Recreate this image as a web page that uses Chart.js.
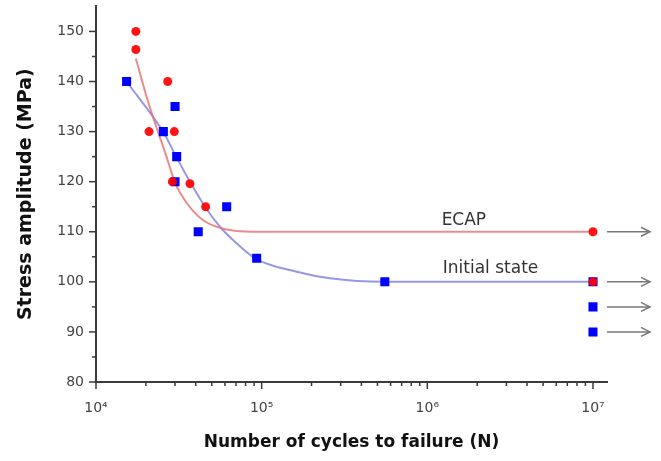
<!DOCTYPE html>
<html>
<head>
<meta charset="utf-8">
<script src="https://cdn.jsdelivr.net/npm/chart.js@4.4.0/dist/chart.umd.min.js"></script>
<style>
  html, body { margin: 0; padding: 0; background: #fff; }
  #wrap { width: 661px; height: 461px; }
</style>
</head>
<body>
<div id="wrap"><canvas id="sn"></canvas></div>
<script>
// S-N data: cycles to failure vs stress amplitude (MPa)
const ecapCycles = [1.74e4, 1.74e4, 2.71e4, 2.09e4, 2.97e4, 2.89e4, 3.69e4, 4.59e4, 1e7, 1e7];
const ecapStress = [150, 146.4, 140, 130, 130, 120, 119.6, 115, 110, 100];

const initCycles = [1.53e4, 3.0e4, 2.55e4, 3.07e4, 3.0e4, 4.14e4, 6.15e4, 9.33e4, 5.54e5, 1e7, 1e7, 1e7];
const initStress = [140, 135, 130, 125, 120, 110, 115, 104.7, 100, 100, 95, 90];

// fitted curves
const ecapFitCycles = [1.74e4, 2.07e4, 2.67e4, 3.0e4, 3.52e4, 4.44e4, 5.86e4, 8.9e4, 1e7];
const ecapFitStress = [144.6, 135.8, 124.9, 119.8, 115.8, 112.3, 110.6, 110, 110];
const initFitCycles = [1.545e4, 2.547e4, 3.069e4, 3.69e4, 4.55e4, 5.6e4, 6.74e4, 9.12e4, 1.63e5, 2.58e5, 5.54e5, 1e7];
const initFitStress = [139.8, 129.9, 124.8, 120, 115, 111, 108.3, 104.7, 102, 100.7, 100, 100];

// run-outs: specimens that did not fail at 10^7 cycles
const runoutCycles = 1e7;
const runoutStress = [110, 100, 95, 90];

const yTicks = [80, 90, 100, 110, 120, 130, 140, 150];
const xDecades = [1e4, 1e5, 1e6, 1e7];

const SUP = { 4: '\u2074', 5: '\u2075', 6: '\u2076', 7: '\u2077' };
const pts = (xs, ys) => xs.map((v, i) => ({ x: v, y: ys[i] }));

// hand-drawn tick marks, run-out arrows and curve labels
const extras = {
  id: 'extras',
  afterDraw(chart) {
    const { ctx, chartArea } = chart;
    const xs = chart.scales.x, ys = chart.scales.y;
    const line = (x1, y1, x2, y2) => { ctx.beginPath(); ctx.moveTo(x1, y1); ctx.lineTo(x2, y2); ctx.stroke(); };
    ctx.save();
    ctx.strokeStyle = '#3a3a3a';
    ctx.lineWidth = 1.5;
    const left = chartArea.left, bottom = chartArea.bottom;
    for (let v = 80; v <= 150; v += 5) {
      const py = ys.getPixelForValue(v);
      line(left - (v % 10 ? 4 : 7), py, left, py);
    }
    xDecades.forEach((d, i) => {
      line(xs.getPixelForValue(d), bottom, xs.getPixelForValue(d), bottom + 7);
      if (i < xDecades.length - 1) {
        for (let k = 2; k <= 9; k++) {
          const px = xs.getPixelForValue(k * d);
          line(px, bottom, px, bottom + 4);
        }
      }
    });

    // arrows
    ctx.strokeStyle = '#777';
    const ax0 = xs.getPixelForValue(runoutCycles) + 14, ax1 = ax0 + 43;
    runoutStress.forEach(s => {
      const py = ys.getPixelForValue(s);
      line(ax0, py, ax1, py);
      ctx.beginPath();
      ctx.moveTo(ax1 - 9, py - 4.5);
      ctx.lineTo(ax1, py);
      ctx.lineTo(ax1 - 9, py + 4.5);
      ctx.stroke();
    });

    ctx.fillStyle = '#333';
    ctx.font = '17px "DejaVu Sans"';
    ctx.textBaseline = 'alphabetic';
    ctx.fillText('ECAP', xs.getPixelForValue(1.22e6), ys.getPixelForValue(110) - 7);
    ctx.fillText('Initial state', xs.getPixelForValue(1.24e6), ys.getPixelForValue(100) - 9);
    ctx.restore();
  }
};

new Chart(document.getElementById('sn'), {
  type: 'scatter',
  data: {
    datasets: [
      {
        label: 'ECAP',
        data: pts(ecapCycles, ecapStress),
        pointStyle: 'circle',
        pointRadius: 4.5,
        backgroundColor: 'rgba(255, 0, 0, 0.92)',
        borderWidth: 0
      },
      {
        label: 'Initial state',
        data: pts(initCycles, initStress),
        pointStyle: 'rect',
        pointRadius: 6.4,
        backgroundColor: '#0000ff',
        borderWidth: 0
      },
      {
        type: 'line',
        label: 'ECAP fit',
        data: pts(ecapFitCycles, ecapFitStress),
        borderColor: 'rgba(230, 110, 110, 0.8)',
        borderWidth: 2,
        pointRadius: 0,
        cubicInterpolationMode: 'monotone',
        fill: false
      },
      {
        type: 'line',
        label: 'Initial fit',
        data: pts(initFitCycles, initFitStress),
        borderColor: 'rgba(125, 125, 225, 0.8)',
        borderWidth: 2,
        pointRadius: 0,
        cubicInterpolationMode: 'monotone',
        fill: false
      }
    ]
  },
  options: {
    responsive: true,
    maintainAspectRatio: false,
    animation: false,
    layout: { padding: { left: 0, top: 6, right: 54, bottom: 0 } },
    plugins: { legend: { display: false }, tooltip: { enabled: false } },
    scales: {
      x: {
        type: 'logarithmic',
        bounds: 'data',
        min: 1e4,
        max: 1.215e7,
        afterBuildTicks: s => { s.ticks = xDecades.map(v => ({ value: v, major: true })); },
        afterFit: s => { s.height = 79; s.paddingLeft = 0; s.paddingRight = 0; },
        grid: { display: false, drawTicks: false },
        border: { display: true, color: '#3a3a3a', width: 2 },
        ticks: {
          autoSkip: false,
          maxRotation: 0,
          padding: 18,
          color: '#444',
          font: { family: 'DejaVu Sans', size: 14 },
          callback: v => '10' + SUP[Math.round(Math.log10(v))]
        },
        title: {
          display: true,
          text: 'Number of cycles to failure (N)',
          color: '#111',
          font: { family: 'DejaVu Sans', size: 17, weight: 'bold' },
          padding: { top: 0, bottom: 8 }
        }
      },
      y: {
        bounds: 'data',
        min: 80,
        max: 155,
        afterBuildTicks: s => { s.ticks = yTicks.map(v => ({ value: v })); },
        afterFit: s => { s.width = 96; s.paddingTop = 0; s.paddingBottom = 0; },
        grid: { display: false, drawTicks: false },
        border: { display: true, color: '#3a3a3a', width: 2 },
        ticks: {
          padding: 12,
          color: '#444',
          font: { family: 'DejaVu Sans', size: 14 }
        },
        title: {
          display: true,
          text: 'Stress amplitude (MPa)',
          color: '#111',
          font: { family: 'DejaVu Sans', size: 19, weight: 'bold' },
          padding: { top: 15, bottom: 0 }
        }
      }
    }
  },
  plugins: [extras]
});
</script>
</body>
</html>
